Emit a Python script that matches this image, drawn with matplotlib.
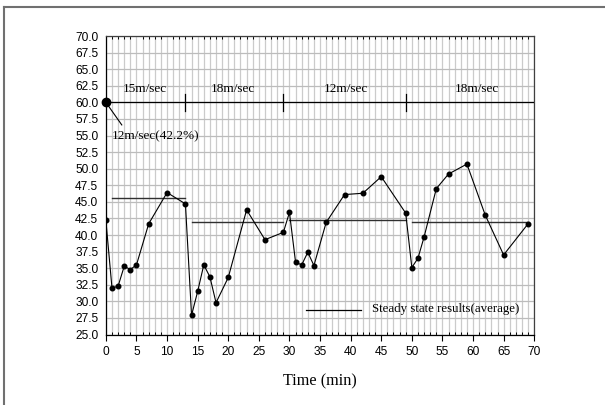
import numpy as np
import matplotlib
matplotlib.use('Agg')
import matplotlib.pyplot as plt
from matplotlib.lines import Line2D
from matplotlib.ticker import MultipleLocator, FormatStrFormatter

# measured data
time = [0, 1, 2, 3, 4, 5, 7, 10, 13, 14, 15, 16, 17, 18, 20, 23, 26, 29, 30,
        31, 32, 33, 34, 36, 39, 42, 45, 49, 50, 51, 52, 54, 56, 59, 62, 65, 69]
value = [42.2, 32.0, 32.3, 35.3, 34.8, 35.5, 41.7, 46.4, 44.7, 27.9, 31.5, 35.5,
         33.7, 29.8, 33.6, 43.8, 39.3, 40.4, 43.4, 35.9, 35.5, 37.4, 35.4, 41.9,
         46.1, 46.3, 48.8, 43.3, 35.1, 36.5, 39.7, 47.0, 49.2, 50.7, 43.0, 37.0, 41.7]

# steady state averages (start, end, level)
avg_start = [1, 14, 30, 50]
avg_end = [13, 29, 49, 69]
avg_level = [45.6, 41.9, 42.3, 41.9]

# wind speed phases
phase_breaks = [13, 29, 49]
phase_labels = ['15m/sec', '18m/sec', '12m/sec', '18m/sec']
phase_label_x = [6.4, 20.8, 39.3, 60.6]

serif = 'Liberation Serif'
plt.rcParams['font.family'] = ['Liberation Sans', 'DejaVu Sans']

fig = plt.figure(figsize=(6.05, 4.05), dpi=100)
ax = fig.add_axes([0.175, 0.174, 0.708, 0.737])

ax.set_xlim(0, 70)
ax.set_ylim(25, 70)
ax.xaxis.set_major_locator(MultipleLocator(5))
ax.xaxis.set_minor_locator(MultipleLocator(1))
ax.yaxis.set_major_locator(MultipleLocator(2.5))
ax.yaxis.set_major_formatter(FormatStrFormatter('%.1f'))

ax.grid(which='minor', axis='x', color='#cbcbcb', lw=0.9)
ax.grid(which='major', axis='x', color='#cbcbcb', lw=0.9)
ax.grid(which='major', axis='y', color='#bcbcbc', lw=0.9)
ax.set_axisbelow(True)

ax.tick_params(axis='x', which='major', direction='out', length=4, width=0.8,
               labelsize=8.6, top=False, pad=4)
ax.tick_params(axis='x', which='minor', direction='in', length=2.5, width=0.7,
               top=True, bottom=True)
ax.tick_params(axis='y', which='major', direction='out', length=0, labelsize=8.6, pad=5.5)
for s in ['top', 'right']:
    ax.spines[s].set_color('#404040')
for s in ax.spines.values():
    s.set_linewidth(0.9)

# data series
ax.plot(time, value, color='black', lw=0.8, marker='o', markersize=3.3, zorder=3)

# steady state averages
for a, b, lv in zip(avg_start, avg_end, avg_level):
    ax.plot([a, b], [lv, lv], color='#303030', lw=1.0, zorder=2)

# phase line at 60
ax.plot([0, 70], [60, 60], color='black', lw=0.9, zorder=3)
for b in phase_breaks:
    ax.plot([b, b], [58.7, 61.3], color='black', lw=0.9, zorder=3)
for lx, lab in zip(phase_label_x, phase_labels):
    ax.text(lx, 62.0, lab, ha='center', va='center', fontsize=9.5, family=serif)

ax.plot([0], [60], 'o', color='black', markersize=6, zorder=4, clip_on=False)
ax.plot([0, 2.6], [60, 56.6], color='black', lw=0.8)
ax.text(0.9, 54.9, '12m/sec(42.2%)', ha='left', va='center', fontsize=9.5, family=serif)

# legend
ax.plot([32.7, 41.7], [28.7, 28.7], color='black', lw=0.9)
ax.text(43.5, 28.9, 'Steady state results(average)', ha='left', va='center',
        fontsize=9.3, family=serif)

ax.set_xlabel('Time (min)', fontsize=11.7, family=serif, labelpad=11)

# outer frame (top and left only)
fig.add_artist(Line2D([0.007, 0.007], [0, 0.982], color='#707070', lw=1.5,
                      transform=fig.transFigure))
fig.add_artist(Line2D([0.007, 1.0], [0.982, 0.982], color='#707070', lw=1.5,
                      transform=fig.transFigure))

fig.savefig('out.png', dpi=100)
